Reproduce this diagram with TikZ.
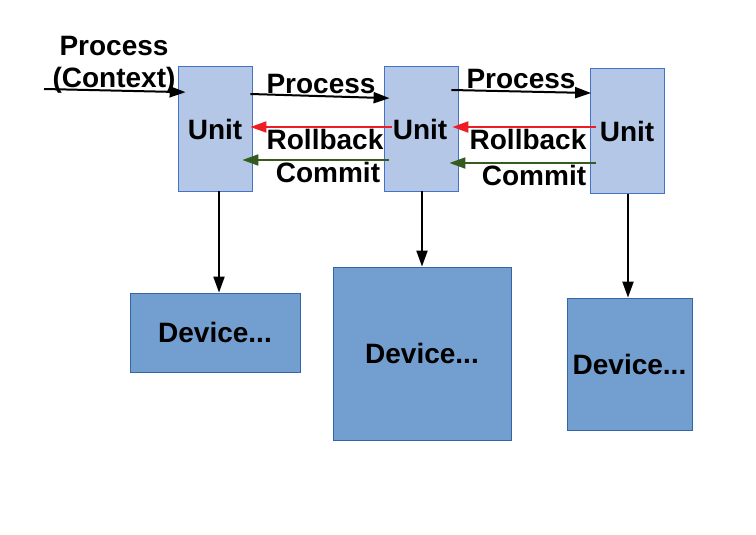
\documentclass[tikz,border=0pt]{standalone}
\usepackage{fontspec}
\setmainfont{Liberation Sans}
\usetikzlibrary{arrows.meta,positioning}
\definecolor{unitFill}{RGB}{180,199,231}
\definecolor{unitLine}{RGB}{68,114,196}
\definecolor{devFill}{RGB}{114,159,207}
\definecolor{devLine}{RGB}{52,101,164}
\definecolor{rollRed}{RGB}{238,28,37}
\definecolor{commitGreen}{RGB}{52,92,30}

\begin{document}
\begin{tikzpicture}[x=1pt,y=-1pt,>={Triangle[length=16pt,width=11pt]},
  font=\fontsize{28}{32}\selectfont\bfseries,
  unitbox/.style={draw=unitLine,line width=0.8pt,fill=unitFill,inner sep=0pt,minimum width=74pt,minimum height=125pt},
  devbox/.style={draw=devLine,line width=0.8pt,fill=devFill,inner sep=0pt},
  flow/.style={->,line width=2pt},
  lbl/.style={inner sep=0pt}]
\useasboundingbox (0,0) rectangle (756,535);
\node[unitbox] (u1) at (215,128.5) {};
\node[unitbox] (u2) at (421,128.5) {};
\node[unitbox] (u3) at (627.5,131) {};
\node[lbl] (t1) at (215,129) {Unit};
\node[lbl] (t2) at (420,129) {Unit};
\node[lbl] (t3) at (627,131) {Unit};
\node[devbox,minimum width=170pt,minimum height=79pt] (d1) at (215,332.5) {Device...};
\node[devbox,minimum width=178pt,minimum height=173pt] (d2) at (422,353.5) {Device...};
\node[devbox,minimum width=125pt,minimum height=132pt] (d3) at (629.5,364) {Device...};
% input
\coordinate (in) at (44,89);
\node[lbl,align=center] (pc) at (114,65) {Process\\(Context)};
\draw[flow,shorten >=-8pt] (in) -- ([yshift=36.5pt]u1.west);
% process
\draw[flow,shorten >=-6pt] ([xshift=-2pt,yshift=34.5pt]u1.east) -- ([yshift=30.5pt]u2.west);
\draw[flow,shorten >=-1pt] ([xshift=-7pt,yshift=38.5pt]u2.east) -- ([yshift=38pt]u3.west);
\node[lbl] (p1) at (321,84) {Process};
\node[lbl] (p2) at (521,79) {Process};
% rollback
\draw[flow,draw=rollRed,fill=rollRed] ([xshift=8pt,yshift=1.5pt]u2.west) -- ([xshift=-2pt,yshift=1.5pt]u1.east);
\draw[flow,draw=rollRed,fill=rollRed] ([xshift=6pt,yshift=4pt]u3.west) -- ([xshift=-6pt,yshift=1.5pt]u2.east);
\node[lbl] (r1) at (325,139) {Rollback};
\node[lbl] (r2) at (528,139) {Rollback};
% commit
\draw[flow,draw=commitGreen,fill=commitGreen] ([xshift=5pt,yshift=-31.5pt]u2.west) -- ([xshift=-10pt,yshift=-31.5pt]u1.east);
\draw[flow,draw=commitGreen,fill=commitGreen] ([xshift=6pt,yshift=-32pt]u3.west) -- ([xshift=-9pt,yshift=-34.5pt]u2.east);
\node[lbl] (c1) at (328,172) {Commit};
\node[lbl] (c2) at (534,175) {Commit};
% devices
\draw[flow] ([xshift=4pt]u1.south) -- ([xshift=4pt]d1.north);
\draw[flow] ([xshift=1pt]u2.south) -- (d2.north);
\draw[flow] ([xshift=0.5pt]u3.south) -- ([xshift=0.5pt]u3.south |- d3.north);
\end{tikzpicture}
\end{document}
